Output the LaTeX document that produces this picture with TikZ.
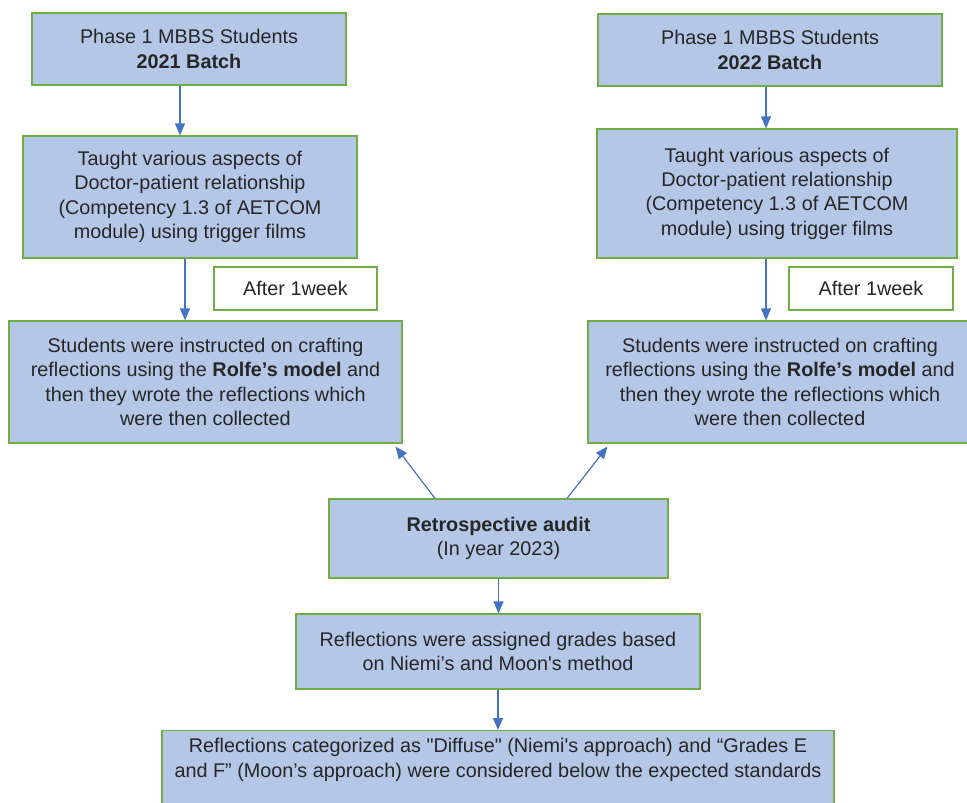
\documentclass[tikz,border=0pt]{standalone}
\usepackage{fontspec}
\setmainfont{Liberation Sans}[Ligatures=TeXOff]
\usetikzlibrary{arrows.meta}
\usetikzlibrary{calc}

\definecolor{boxfill}{HTML}{B4C7E7}
\definecolor{boxline}{HTML}{70AD47}
\definecolor{arrline}{HTML}{4472C4}
\definecolor{txt}{HTML}{262626}

\begin{document}
\begin{tikzpicture}[x=1pt, y=-1pt,
  box/.style={draw=boxline, fill=boxfill, line width=1.2pt, align=center, text=txt,
    inner sep=0pt, font=\fontsize{19.8}{24.3}\selectfont},
  weekbox/.style={box, fill=white},
  arr/.style={draw=arrline, line width=1.2pt, -{Triangle[length=12pt,width=10pt]}}]

\useasboundingbox (0,0) rectangle (967,803);
\clip (0,0) rectangle (967,803);

% 2021 batch
\node [box, minimum width=314pt, minimum height=72pt] (batchA) at (189,49)
  {Phase 1 MBBS Students\\\textbf{2021 Batch}};
\node [box, minimum width=334pt, minimum height=122pt] (taughtA) at (190,197)
  {Taught various aspects of\\Doctor-patient relationship\\(Competency 1.3 of AETCOM\\module) using trigger films};
\node [weekbox, minimum width=163pt, minimum height=43pt] (weekA) at (295.5,288.5) {After 1week};
\node [box, minimum width=393pt, minimum height=122pt] (studA) at (205.5,382)
  {Students were instructed on crafting\\reflections using the \textbf{Rolfe’s model} and\\then they wrote the reflections which\\were then collected};

% 2022 batch
\node [box, minimum width=344pt, minimum height=72pt] (batchB) at (770,50)
  {Phase 1 MBBS Students\\\textbf{2022 Batch}};
\node [box, minimum width=360pt, minimum height=129pt] (taughtB) at (777,193.5)
  {Taught various aspects of\\Doctor-patient relationship\\(Competency 1.3 of AETCOM\\module) using trigger films};
\node [weekbox, minimum width=164pt, minimum height=43pt] (weekB) at (871,288.5) {After 1week};
\node [box, minimum width=384pt, minimum height=122pt] (studB) at (780,382)
  {Students were instructed on crafting\\reflections using the \textbf{Rolfe’s model} and\\then they wrote the reflections which\\were then collected};

% audit and grading
\node [box, minimum width=339pt, minimum height=79pt] (audit) at (498.5,538.5)
  {\textbf{Retrospective audit}\\(In year 2023)};
\node [box, minimum width=404pt, minimum height=75pt] (grades) at (498,651.5)
  {Reflections were assigned grades based\\on Niemi’s and Moon's method};
\node [box, minimum width=672pt, minimum height=100pt, anchor=north] (cat) at (498,730) {};
\node [align=center, text=txt, inner sep=0pt, font=\fontsize{19.8}{24.3}\selectfont] (cattxt)
  at ([yshift=-30pt]cat.north)
  {Reflections categorized as "Diffuse" (Niemi's approach) and “Grades E\\and F” (Moon’s approach) were considered below the expected standards};

% arrows
\draw [arr] ([xshift=-9pt]batchA.south) -- ([xshift=-9pt]batchA.south |- taughtA.north);
\draw [arr] ([xshift=-5pt]taughtA.south) -- ([xshift=-5pt]taughtA.south |- studA.north);
\draw [arr] ([xshift=-4pt]batchB.south) -- ([xshift=-4pt]batchB.south |- taughtB.north);
\draw [arr] ([xshift=-11pt]taughtB.south) -- ([xshift=-11pt]taughtB.south |- studB.north);
\draw [arr] ([xshift=-63.5pt]audit.north) -- ([shift={(-7pt,-3pt)}]studA.south east);
\draw [arr] ([xshift=68.5pt]audit.north) -- ([shift={(20pt,-3pt)}]studB.south west);
\draw [arr] (audit.south) -- (audit.south |- grades.north);
\draw [arr] (grades.south) -- (grades.south |- cat.north);

\end{tikzpicture}
\end{document}
